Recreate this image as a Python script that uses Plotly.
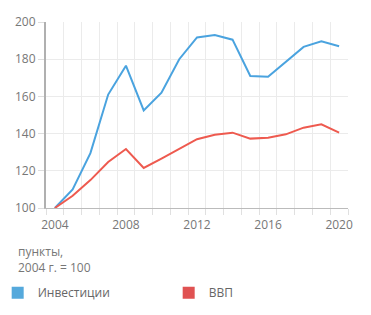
import plotly.graph_objects as go

years = list(range(2004, 2021))
investments = [100, 110, 129.5, 161, 176.5, 152.5, 162, 180, 191.7, 193, 190.5, 171, 170.6, 178.6, 186.6, 189.6, 187]
gdp = [100, 106.6, 115, 124.7, 131.7, 121.5, 126.5, 131.8, 137, 139.4, 140.5, 137.3, 137.8, 139.6, 143.2, 145, 140.5]
x_ticks = [2004, 2008, 2012, 2016, 2020]
y_ticks = [100, 120, 140, 160, 180, 200]
series_names = ["Инвестиции", "ВВП"]
line_colors = ["#4aa3df", "#ee5a4f"]
legend_colors = ["#55a9dc", "#e05252"]

fig = go.Figure()
for name, vals, c in zip(series_names, [investments, gdp], line_colors):
    fig.add_trace(go.Scatter(x=years, y=vals, mode="lines", name=name,
                             line=dict(color=c, width=2), showlegend=False))
for name, c in zip(series_names, legend_colors):
    fig.add_trace(go.Scatter(x=[None], y=[None], mode="markers", name=name,
                             marker=dict(symbol="square", size=7, color=c)))

font = dict(family="Open Sans, Noto Sans, sans-serif", size=12, color="#777777")

fig.update_layout(
    width=371, height=315,
    margin=dict(l=46, r=23, t=22, b=107, autoexpand=False),
    plot_bgcolor="white", paper_bgcolor="white",
    font=font,
    showlegend=True,
    legend=dict(orientation="h", x=-0.16, y=-0.378, xanchor="left", yanchor="top",
                entrywidth=126, entrywidthmode="pixels",
                font=dict(family="Open Sans, Noto Sans, sans-serif", size=12, color="#666666"),
                itemsizing="constant"),
    xaxis=dict(range=[2003.5, 2020.5], tickvals=x_ticks, ticktext=[str(v) for v in x_ticks],
               showgrid=False, ticks="", zeroline=False,
               showline=True, linecolor="#bbbbbb", linewidth=1,
               tickfont=font, ticklabelstandoff=6,
               minor=dict(tick0=2003.5, dtick=1, showgrid=True, gridcolor="#ebebeb",
                          gridwidth=1, ticks="outside", ticklen=6, tickcolor="#e0e0e0")),
    yaxis=dict(range=[100, 200], tickvals=y_ticks, showgrid=True, gridcolor="#ebebeb",
               gridwidth=1, zeroline=False, showline=True, linecolor="#b0b0b0", linewidth=2,
               ticks="outside", ticklen=6, tickcolor="#dddddd", tickfont=font),
    annotations=[dict(text="пункты,<br>2004 г. = 100", xref="paper", yref="paper",
                      x=-0.10, y=-0.178, xanchor="left", yanchor="top", align="left",
                      showarrow=False,
                      font=dict(family="Open Sans, Noto Sans, sans-serif", size=12, color="#777777"))],
)

fig.write_html("out.html")
